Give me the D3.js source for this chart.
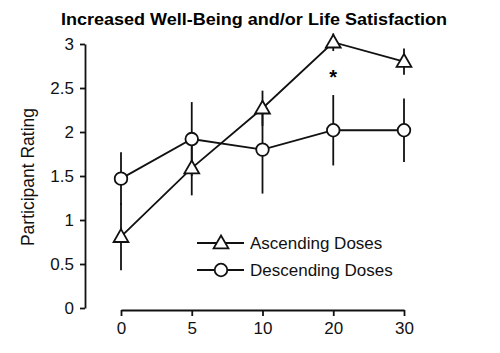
<!DOCTYPE html>
<html>
<head>
<meta charset="utf-8">
<script src="https://cdn.jsdelivr.net/npm/d3@7"></script>
<style>
  body { margin: 0; background: #fff; }
  svg { display: block; font-family: "Liberation Sans", Arial, sans-serif; }
</style>
</head>
<body>
<script>
const WIDTH = 500;
const HEIGHT = 353;

// data
const doses = ["0", "5", "10", "20", "30"];
const ascending = [0.81, 1.59, 2.27, 3.02, 2.80];
const ascendingErr = [0.38, 0.31, 0.20, 0.10, 0.15];
const descending = [1.47, 1.92, 1.80, 2.02, 2.02];
const descendingErr = [0.30, 0.42, 0.50, 0.40, 0.36];
const yTicks = [0, 0.5, 1, 1.5, 2, 2.5, 3];
const starDose = "20";

const svg = d3.select("body")
              .append("svg")
              .attr("width", WIDTH)
              .attr("height", HEIGHT);

const x = d3.scalePoint()
            .domain(doses)
            .range([121, 404]);

const y = d3.scaleLinear()
            .domain([0, 3])
            .range([308, 44]);

const triangle = d3.symbol().type(d3.symbolTriangle).size(95);

const series = [
  {name: "Ascending Doses", values: ascending, err: ascendingErr, shape: "triangle"},
  {name: "Descending Doses", values: descending, err: descendingErr, shape: "circle"}
];

// title
svg.append("text")
   .attr("x", 254)
   .attr("y", 25)
   .attr("text-anchor", "middle")
   .attr("font-weight", "bold")
   .attr("font-size", 17)
   .attr("textLength", 386)
   .attr("lengthAdjust", "spacingAndGlyphs")
   .text("Increased Well-Being and/or Life Satisfaction");

// y axis
const yAxis = svg.append("g")
   .attr("transform", "translate(85,0)")
   .call(d3.axisLeft(y)
           .tickValues(yTicks)
           .tickFormat(d3.format(""))
           .tickSize(5)
           .tickSizeOuter(0)
           .tickPadding(6));

// x axis
const xAxis = svg.append("g")
   .attr("transform", "translate(0,310)")
   .call(d3.axisBottom(x)
           .tickSize(6)
           .tickSizeOuter(0)
           .tickPadding(6));

[yAxis, xAxis].forEach(g => {
  g.selectAll("path, line").attr("stroke", "#111").attr("stroke-width", 1.8);
  g.selectAll("text").attr("font-size", 17).attr("fill", "#111")
   .attr("font-family", "Liberation Sans, Arial, sans-serif");
});

svg.append("text")
   .attr("transform", "translate(34,177) rotate(-90)")
   .attr("text-anchor", "middle")
   .attr("font-size", 17.5)
   .attr("fill", "#111")
   .text("Participant Rating");

// error bars
series.forEach(s => {
  svg.append("g")
     .selectAll("line")
     .data(doses)
     .join("line")
     .attr("x1", d => x(d))
     .attr("x2", d => x(d))
     .attr("y1", (d, i) => y(s.values[i] - s.err[i]))
     .attr("y2", (d, i) => y(s.values[i] + s.err[i]))
     .attr("stroke", "#111")
     .attr("stroke-width", 1.8);
});

// lines
const line = d3.line()
               .x((d, i) => x(doses[i]))
               .y(d => y(d));

series.forEach(s => {
  svg.append("path")
     .datum(s.values)
     .attr("d", line)
     .attr("fill", "none")
     .attr("stroke", "#111")
     .attr("stroke-width", 1.8);
});

const drawMarker = (sel, shape) => {
  if (shape === "circle") {
    sel.append("circle")
       .attr("r", 6.3);
  } else {
    sel.append("path")
       .attr("d", triangle)
       .attr("transform", "translate(0,1)");
  }
  sel.selectAll("circle, path")
     .attr("fill", "#fff")
     .attr("stroke", "#111")
     .attr("stroke-width", 1.8);
};

// markers
series.forEach(s => {
  s.values.forEach((v, i) => {
    const g = svg.append("g")
                 .attr("transform", "translate(" + [x(doses[i]), y(v)] + ")");
    drawMarker(g, s.shape);
  });
});

// significance star
svg.append("text")
   .attr("x", x(starDose))
   .attr("y", 84)
   .attr("text-anchor", "middle")
   .attr("font-weight", "bold")
   .attr("font-size", 20)
   .text("*");

// legend
const legend = svg.append("g");
series.forEach((s, i) => {
  const row = legend.append("g")
                    .attr("transform", "translate(0," + (243 + i * 27) + ")");
  row.append("line")
     .attr("x1", 197)
     .attr("x2", 244)
     .attr("stroke", "#111")
     .attr("stroke-width", 1.8);
  const m = row.append("g").attr("transform", "translate(221,0)");
  drawMarker(m, s.shape);
  row.append("text")
     .attr("x", 250)
     .attr("y", 6)
     .attr("font-size", 17)
     .attr("fill", "#111")
     .text(s.name);
});
</script>
</body>
</html>
